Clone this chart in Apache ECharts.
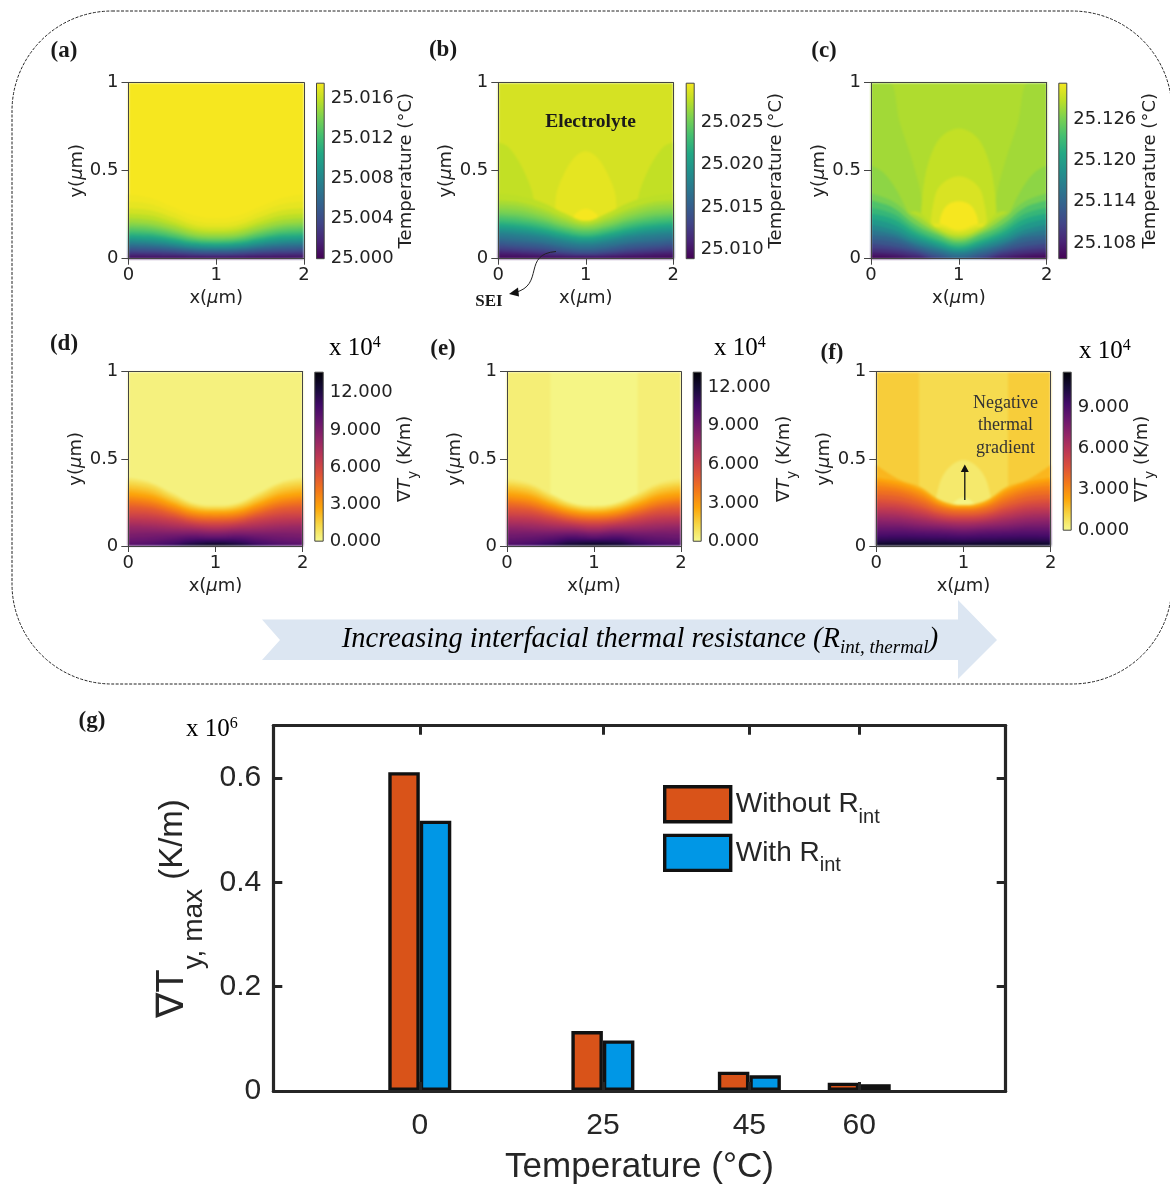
<!DOCTYPE html>
<html>
<head>
<meta charset="utf-8">
<script src="https://cdn.jsdelivr.net/npm/echarts@6/dist/echarts.min.js"></script>
<style>html,body{margin:0;padding:0;background:#fff}#c{width:1170px;height:1186px;filter:blur(0.4px)}</style>
</head>
<body>
<div id="c"></div>
<script>
// ---------- data ----------
const xSamples = [0, 0.25, 0.5, 0.75, 1, 1.25, 1.5, 1.75, 2];

// (a) temperature contours: level (°C) and y(µm) of the isoline at each xSample
const panelA_range = [25.000, 25.0176];
const panelA_ticks = [25.000, 25.004, 25.008, 25.012, 25.016];
const panelA_background = 25.0176;
const panelA_levels = [25.01742, 25.0171, 25.0165, 25.0158, 25.0151, 25.0144, 25.0136, 25.0127, 25.0116, 25.0104, 25.0092, 25.0079, 25.0065, 25.0051, 25.0037, 25.0023, 25.0011, 25.0002];
const panelA_isolines = [
  [.365,.345,.295,.245,.23,.245,.295,.345,.365],
  [.325,.31,.265,.215,.2,.215,.265,.31,.325],
  [.285,.275,.235,.19,.178,.19,.235,.275,.285],
  [.255,.245,.21,.17,.16,.17,.21,.245,.255],
  [.23,.22,.19,.155,.145,.155,.19,.22,.23],
  [.205,.197,.17,.138,.13,.138,.17,.197,.205],
  [.187,.18,.155,.125,.118,.125,.155,.18,.187],
  [.17,.163,.14,.113,.106,.113,.14,.163,.17],
  [.152,.146,.125,.102,.095,.102,.125,.146,.152],
  [.135,.13,.112,.09,.085,.09,.112,.13,.135],
  [.118,.113,.097,.08,.074,.08,.097,.113,.118],
  [.102,.097,.084,.068,.064,.068,.084,.097,.102],
  [.085,.081,.07,.057,.054,.057,.07,.081,.085],
  [.068,.065,.056,.046,.043,.046,.056,.065,.068],
  [.051,.048,.042,.034,.032,.034,.042,.048,.051],
  [.034,.032,.028,.023,.021,.023,.028,.032,.034],
  [.018,.017,.015,.012,.011,.012,.015,.017,.018],
  [.006,.006,.005,.004,.004,.004,.005,.006,.006]
];

// (b)
const panelB_range = [25.00895, 25.0296];
const panelB_ticks = [25.010, 25.015, 25.020, 25.025];
const panelB_background = 25.0284;
const panelB_regionValues = [25.0277, 25.0277, 25.0290, 25.0296];
const panelB_regions = [
  [[0,.66],[.1,.64],[.2,.58],[.3,.49],[.38,.39],[.42,.3]],
  [[1.58,.3],[1.62,.39],[1.7,.49],[1.8,.58],[1.9,.64],[2,.66]],
  [[.65,.28],[.66,.36],[.74,.47],[.86,.57],[1,.61],[1.14,.57],[1.26,.47],[1.34,.36],[1.35,.28]],
  [[.85,.21],[.88,.255],[1,.284],[1.12,.255],[1.15,.21]]
];
const panelB_levels = [25.0275, 25.0269, 25.0263, 25.0257, 25.0251, 25.0242, 25.0234, 25.0224, 25.0213, 25.0203, 25.0193, 25.0182, 25.0174, 25.0166, 25.0158, 25.0151, 25.0143, 25.0135, 25.0127, 25.0118, 25.0110, 25.0102, 25.0094];
const panelB_isolines = [
  [.37,.355,.32,.26,.215,.26,.32,.355,.37],
  [.33,.32,.285,.235,.2,.235,.285,.32,.33],
  [.308,.298,.265,.22,.19,.22,.265,.298,.308],
  [.285,.275,.245,.205,.18,.205,.245,.275,.285],
  [.267,.257,.23,.192,.17,.192,.23,.257,.267],
  [.25,.24,.215,.18,.16,.18,.215,.24,.25],
  [.232,.222,.2,.167,.147,.167,.2,.222,.232],
  [.215,.205,.185,.155,.135,.155,.185,.205,.215],
  [.2,.19,.17,.142,.125,.142,.17,.19,.2],
  [.185,.175,.155,.13,.115,.13,.155,.175,.185],
  [.17,.16,.142,.118,.103,.118,.142,.16,.17],
  [.155,.145,.13,.105,.09,.105,.13,.145,.155],
  [.14,.13,.115,.092,.08,.092,.115,.13,.14],
  [.125,.115,.1,.08,.07,.08,.1,.115,.125],
  [.11,.1,.088,.068,.058,.068,.088,.1,.11],
  [.1,.09,.08,.06,.05,.06,.08,.09,.1],
  [.087,.077,.067,.05,.042,.05,.067,.077,.087],
  [.075,.065,.055,.04,.033,.04,.055,.065,.075],
  [.062,.054,.045,.032,.026,.032,.045,.054,.062],
  [.05,.043,.035,.025,.02,.025,.035,.043,.05],
  [.039,.033,.026,.018,.015,.018,.026,.033,.039],
  [.028,.024,.018,.012,.01,.012,.018,.024,.028],
  [.012,.01,.008,.006,.005,.006,.008,.01,.012]
];

// (c)
const panelC_range = [25.1057, 25.1313];
const panelC_ticks = [25.108, 25.114, 25.120, 25.126];
const panelC_background = 25.1282;
const panelC_regionValues = [25.1277, 25.1277, 25.1269, 25.1269, 25.1290, 25.1300, 25.1313];
const panelC_regions = [
  [[0,1],[.21,1],[.33,.77],[.48,.54],[.58,.33],[.6,.1]],
  [[1.4,.1],[1.42,.33],[1.52,.54],[1.67,.77],[1.79,1],[2,1]],
  [[0,.53],[.14,.49],[.29,.39],[.44,.24]],
  [[1.56,.24],[1.71,.39],[1.86,.49],[2,.53]],
  [[.57,.25],[.59,.38],[.65,.54],[.785,.685],[1,.74],[1.215,.685],[1.35,.54],[1.41,.38],[1.43,.25]],
  [[.68,.2],[.7,.29],[.78,.41],[1,.468],[1.22,.41],[1.3,.29],[1.32,.2]],
  [[.78,.2],[.8,.25],[.87,.305],[1,.326],[1.13,.305],[1.2,.25],[1.22,.2]]
];
const panelC_levels = [25.1305, 25.1295, 25.1285, 25.1275, 25.1259, 25.1241, 25.1226, 25.1211, 25.1193, 25.1175, 25.1157, 25.1141, 25.1126, 25.1108, 25.1093, 25.1075, 25.1060];
const panelC_isolines = [
  [.05,.05,.1,.2,.165,.2,.1,.05,.05],
  [.05,.1,.16,.18,.15,.18,.16,.1,.05],
  [.2,.2,.27,.175,.135,.175,.27,.2,.2],
  [.3,.28,.25,.165,.125,.165,.25,.28,.3],
  [.37,.325,.225,.15,.11,.15,.225,.325,.37],
  [.33,.29,.195,.135,.095,.135,.195,.29,.33],
  [.29,.255,.17,.115,.08,.115,.17,.255,.29],
  [.255,.225,.15,.1,.067,.1,.15,.225,.255],
  [.225,.195,.13,.085,.055,.085,.13,.195,.225],
  [.195,.165,.11,.07,.042,.07,.11,.165,.195],
  [.165,.14,.09,.055,.03,.055,.09,.14,.165],
  [.135,.12,.075,.04,.015,.04,.075,.12,.135],
  [.11,.095,.06,.025,0,.025,.06,.095,.11],
  [.085,.07,.045,.01,0,.01,.045,.07,.085],
  [.06,.05,.03,0,0,0,.03,.05,.06],
  [.035,.028,.012,0,0,0,.012,.028,.035],
  [.015,.01,0,0,0,0,0,.01,.015]
];

// (d) gradient contours, x 10^4 K/m
const panelD_range = [-0.35, 13.7];
const panelD_ticks = [0, 3, 6, 9, 12];
const panelD_background = 0;
const panelD_levels = [0.5, 1, 1.5, 2, 2.5, 3, 3.5, 4, 4.5, 5, 5.5, 6, 6.5, 7, 7.5, 8, 8.5, 9, 9.5, 10, 10.5, 11, 11.5, 12, 12.5, 13];
const panelD_isolines = [
  [.39,.365,.305,.245,.232,.245,.305,.365,.39],
  [.37,.35,.29,.235,.222,.235,.29,.35,.37],
  [.35,.33,.275,.225,.213,.225,.275,.33,.35],
  [.33,.31,.26,.215,.205,.215,.26,.31,.33],
  [.31,.292,.247,.205,.196,.205,.247,.292,.31],
  [.29,.275,.235,.195,.187,.195,.235,.275,.29],
  [.275,.26,.222,.185,.177,.185,.222,.26,.275],
  [.26,.245,.21,.175,.167,.175,.21,.245,.26],
  [.243,.23,.197,.165,.157,.165,.197,.23,.243],
  [.225,.215,.185,.155,.148,.155,.185,.215,.225],
  [.205,.197,.172,.145,.138,.145,.172,.197,.205],
  [.185,.18,.16,.135,.128,.135,.16,.18,.185],
  [.167,.162,.145,.125,.118,.125,.145,.162,.167],
  [.15,.145,.13,.115,.108,.115,.13,.145,.15],
  [.132,.127,.115,.105,.098,.105,.115,.127,.132],
  [.115,.11,.1,.095,.088,.095,.1,.11,.115],
  [.093,.092,.087,.085,.079,.085,.087,.092,.093],
  [.07,.075,.075,.075,.07,.075,.075,.075,.07],
  [.045,.052,.06,.065,.06,.065,.06,.052,.045],
  [.02,.03,.045,.055,.05,.055,.045,.03,.02],
  [0,.012,.03,.045,.043,.045,.03,.012,0],
  [0,0,.015,.035,.036,.035,.015,0,0],
  [0,0,.005,.025,.028,.025,.005,0,0],
  [0,0,0,.015,.02,.015,0,0,0],
  [0,0,0,.006,.014,.006,0,0,0],
  [0,0,0,.002,.008,.002,0,0,0]
];

// (e)
const panelE_range = [-0.33, 13.2];
const panelE_ticks = [0, 3, 6, 9, 12];
const panelE_background = 0.15;
const panelE_regionValues = [-0.12];
const panelE_regions = [[[.5,1],[1.5,1]]];
const panelE_levels = [0.5, 1, 1.5, 2, 2.5, 3, 3.5, 4, 4.5, 5, 5.5, 6, 6.5, 7, 7.5, 8, 8.5, 9, 9.5, 10, 10.5, 11, 11.5, 12, 12.5];
const panelE_isolines = [
  [.385,.36,.3,.245,.23,.245,.3,.36,.385],
  [.365,.345,.285,.235,.22,.235,.285,.345,.365],
  [.345,.325,.27,.225,.21,.225,.27,.325,.345],
  [.325,.305,.255,.215,.202,.215,.255,.305,.325],
  [.305,.288,.243,.205,.193,.205,.243,.288,.305],
  [.285,.27,.23,.195,.184,.195,.23,.27,.285],
  [.27,.255,.218,.185,.175,.185,.218,.255,.27],
  [.255,.24,.205,.175,.165,.175,.205,.24,.255],
  [.238,.225,.193,.165,.155,.165,.193,.225,.238],
  [.22,.21,.18,.155,.146,.155,.18,.21,.22],
  [.2,.192,.168,.145,.136,.145,.168,.192,.2],
  [.18,.175,.155,.135,.126,.135,.155,.175,.18],
  [.163,.158,.14,.125,.116,.125,.14,.158,.163],
  [.145,.14,.125,.115,.106,.115,.125,.14,.145],
  [.128,.123,.112,.105,.096,.105,.112,.123,.128],
  [.11,.105,.098,.095,.086,.095,.098,.105,.11],
  [.09,.088,.085,.085,.077,.085,.085,.088,.09],
  [.068,.07,.072,.075,.068,.075,.072,.07,.068],
  [.042,.05,.058,.065,.058,.065,.058,.05,.042],
  [.018,.028,.043,.055,.048,.055,.043,.028,.018],
  [0,.01,.028,.045,.04,.045,.028,.01,0],
  [0,0,.014,.033,.033,.033,.014,0,0],
  [0,0,.004,.023,.025,.023,.004,0,0],
  [0,0,0,.012,.017,.012,0,0,0],
  [0,0,0,.003,.009,.003,0,0,0]
];

// (f)
const panelF_range = [-1.12, 11.63];
const panelF_ticks = [0, 3, 6, 9];
const panelF_background = 0.42;
const panelF_regionValues = [0, -0.5, -0.95];
const panelF_regions = [
  [[.49,1],[1.51,1]],
  [[.67,.22],[.69,.29],[.76,.4],[.88,.47],[1,.493],[1.12,.47],[1.24,.4],[1.31,.29],[1.33,.22]],
  [[.86,.2],[.88,.245],[1,.277],[1.12,.245],[1.14,.2]]
];
const panelF_levels = [1, 1.5, 2, 2.5, 3, 3.5, 4, 4.5, 5, 5.5, 6, 6.5, 7, 7.5, 8, 8.5, 9, 9.5, 10, 10.5, 11];
const panelF_isolines = [
  [.465,.385,.34,.26,.235,.26,.34,.385,.465],
  [.39,.37,.325,.25,.228,.25,.325,.37,.39],
  [.37,.35,.31,.24,.22,.24,.31,.35,.37],
  [.345,.33,.29,.23,.213,.23,.29,.33,.345],
  [.32,.31,.27,.22,.205,.22,.27,.31,.32],
  [.295,.285,.25,.205,.192,.205,.25,.285,.295],
  [.27,.26,.23,.19,.18,.19,.23,.26,.27],
  [.248,.24,.212,.178,.168,.178,.212,.24,.248],
  [.225,.22,.195,.165,.157,.165,.195,.22,.225],
  [.205,.2,.178,.152,.145,.152,.178,.2,.205],
  [.185,.18,.16,.14,.133,.14,.16,.18,.185],
  [.165,.16,.143,.127,.12,.127,.143,.16,.165],
  [.145,.14,.125,.115,.107,.115,.125,.14,.145],
  [.125,.122,.11,.102,.095,.102,.11,.122,.125],
  [.105,.105,.095,.09,.083,.09,.095,.105,.105],
  [.085,.086,.08,.076,.07,.076,.08,.086,.085],
  [.065,.068,.065,.062,.057,.062,.065,.068,.065],
  [.047,.05,.048,.046,.042,.046,.048,.05,.047],
  [.03,.033,.032,.03,.027,.03,.032,.033,.03],
  [.018,.02,.02,.018,.016,.018,.02,.02,.018],
  [.008,.01,.01,.008,.007,.008,.01,.01,.008]
];

// (g) bars
const temperatures = [0, 25, 45, 60];
const withoutRint = [0.611, 0.115, 0.037, 0.016];
const withRint = [0.518, 0.097, 0.030, 0.013];
const gradientTicks = [0, 0.2, 0.4, 0.6];

// colour maps
const viridis = ['#440154','#482475','#414487','#355f8d','#2a788e','#21918c','#22a884','#44bf70','#7ad151','#bddf26','#f6e71f'];
const infernoR = ['#f5fa90','#f6d746','#fca50a','#f37819','#dd513a','#bc3754','#932667','#6a176e','#420a68','#160b39','#000004'];

// ---------- helpers ----------
const SANS = 'DejaVu Sans';
const SERIF = 'Liberation Serif';
const ARIAL = 'Liberation Sans';
const INK = '#222';
const TOP = 1; // zlevel of everything except the contour fills

function mix(stops, f) {
  f = Math.max(0, Math.min(1, f));
  const p = f * (stops.length - 1), i = Math.min(Math.floor(p), stops.length - 2), t = p - i;
  const a = stops[i], b = stops[i + 1];
  const c = k => Math.round(parseInt(a.substr(k, 2), 16) * (1 - t) + parseInt(b.substr(k, 2), 16) * t);
  return 'rgb(' + c(1) + ',' + c(3) + ',' + c(5) + ')';
}

const panelDefs = [
  {rect:[128.5,82.7,175.5,176], bar:[316,82.7,8.7,176], cmap:viridis, range:panelA_range, ticks:panelA_ticks, bg:panelA_background, levels:panelA_levels, lines:panelA_isolines, regions:[], regionValues:[], kind:'T', gap:73, dec:3},
  {rect:[498.3,82.7,175,176], bar:[685.7,82.7,9,176], cmap:viridis, range:panelB_range, ticks:panelB_ticks, bg:panelB_background, levels:panelB_levels, lines:panelB_isolines, regions:panelB_regions, regionValues:panelB_regionValues, kind:'T', gap:73, dec:3},
  {rect:[871,82.7,175.7,176], bar:[1058.3,82.7,9,176], cmap:viridis, range:panelC_range, ticks:panelC_ticks, bg:panelC_background, levels:panelC_levels, lines:panelC_isolines, regions:panelC_regions, regionValues:panelC_regionValues, kind:'T', gap:74, dec:3},
  {rect:[128.3,371.7,174.4,174.3], bar:[314.3,371.7,9.4,174.3], cmap:infernoR, range:panelD_range, ticks:panelD_ticks, bg:panelD_background, levels:panelD_levels, lines:panelD_isolines, regions:[], regionValues:[], kind:'G', gap:65, dec:3},
  {rect:[507,371.7,174,174.3], bar:[692.7,371.7,9,174.3], cmap:infernoR, range:panelE_range, ticks:panelE_ticks, bg:panelE_background, levels:panelE_levels, lines:panelE_isolines, regions:panelE_regions, regionValues:panelE_regionValues, kind:'G', gap:68, dec:3},
  {rect:[876.3,371.7,174.4,174.3], bar:[1062.7,371.7,9,174.3], cmap:infernoR, range:panelF_range, ticks:panelF_ticks, bg:panelF_background, levels:panelF_levels, lines:panelF_isolines, regions:panelF_regions, regionValues:panelF_regionValues, kind:'G', gap:56, dec:3}
];

const grid = [], xAxis = [], yAxis = [], series = [];
const frame = {lineStyle:{color:'#444', width:1}};
const boxAt = r => ({left:r[0], top:r[1], width:r[2], height:r[3], containLabel:false});

panelDefs.forEach(p => {
  const g = grid.length;
  grid.push(boxAt(p.rect));
  const ax = xAxis.length, ay = yAxis.length;
  xAxis.push({gridIndex:g, type:'value', min:0, max:2, interval:1, z:5, zlevel:TOP, position:'bottom', splitLine:{show:false},
    axisLine:Object.assign({onZero:false}, frame), axisTick:{length:6, lineStyle:{color:'#444'}},
    axisLabel:{fontFamily:SANS, fontSize:18, color:INK, margin:8},
    name:'{a|x(}{i|\u03bc}{a|m)}', nameLocation:'middle', nameGap:31,
    nameTextStyle:{rich:{a:{fontFamily:SANS, fontSize:18, color:INK}, i:{fontFamily:SANS, fontSize:18, fontStyle:'italic', color:INK}}}});
  yAxis.push({gridIndex:g, type:'value', min:0, max:1, interval:0.5, z:5, zlevel:TOP, position:'left', splitLine:{show:false},
    axisLine:Object.assign({onZero:false}, frame), axisTick:{length:7, lineStyle:{color:'#444'}},
    axisLabel:{fontFamily:SANS, fontSize:18, color:INK, margin:10, padding:[3,0,0,0], formatter:v => String(v)},
    name:'{a|y(}{i|\u03bc}{a|m)}', nameLocation:'middle', nameGap:40,
    nameTextStyle:{rich:{a:{fontFamily:SANS, fontSize:18, color:INK}, i:{fontFamily:SANS, fontSize:18, fontStyle:'italic', color:INK}}}});
  // closing the frame on the top and right
  xAxis.push({gridIndex:g, type:'value', min:0, max:2, z:5, zlevel:TOP, position:'top', splitLine:{show:false}, axisLabel:{show:false}, axisTick:{show:false}, axisLine:Object.assign({onZero:false}, frame)});
  yAxis.push({gridIndex:g, type:'value', min:0, max:1, z:5, zlevel:TOP, position:'right', splitLine:{show:false}, axisLabel:{show:false}, axisTick:{show:false}, axisLine:Object.assign({onZero:false}, frame)});

  const col = v => mix(p.cmap, (v - p.range[0]) / (p.range[1] - p.range[0]));
  const area = (data, v, smooth) => series.push({type:'line', xAxisIndex:ax, yAxisIndex:ay, data:data, showSymbol:false, symbol:'none', silent:true,
    smooth:smooth, lineStyle:{width:0}, areaStyle:{color:col(v), opacity:1, origin:'start'}, animation:false, legendHoverLink:false, zlevel:0});
  area([[0,1],[2,1]], p.bg, false);
  p.regions.forEach((r, i) => area(r, p.regionValues[i], r.length > 2 ? 0.35 : false));
  p.levels.forEach((v, i) => area(p.lines[i].map((y, k) => [xSamples[k], y]), v, 0.4));

  // colour bar
  const gb = grid.length;
  grid.push(boxAt(p.bar));
  const bx = xAxis.length, by = yAxis.length;
  xAxis.push({gridIndex:gb, type:'category', data:['bar'], show:false, boundaryGap:true});
  const name = p.kind === 'T'
    ? 'Temperature (\u00b0C)'
    : '{a|\u2207}{i|T}{s|y}{a| (K/m)}';
  const rich = {a:{fontFamily:SANS, fontSize:18, color:INK, lineHeight:30}, i:{fontFamily:SANS, fontSize:18, fontStyle:'italic', color:INK, lineHeight:30}, s:{fontFamily:SANS, fontSize:14, color:INK, lineHeight:20, verticalAlign:'bottom'}};
  yAxis.push({gridIndex:gb, type:'value', position:'right', min:p.range[0], max:p.range[1], z:5, zlevel:TOP, splitLine:{show:false},
    axisLine:{show:false}, axisTick:{length:3, customValues:p.ticks, lineStyle:{color:'#444'}},
    axisLabel:{fontFamily:SANS, fontSize:18, color:INK, margin:6, padding:[4,0,0,0], customValues:p.ticks, formatter:v => v.toFixed(p.dec)},
    name:name, nameLocation:'middle', nameRotate:90, nameGap:p.gap,
    nameTextStyle:{fontFamily:SANS, fontSize:18, color:INK, rich:p.kind === 'T' ? undefined : rich}});
  const stops = [];
  for (let i = 0; i < p.cmap.length; i++) stops.push({offset:i / (p.cmap.length - 1), color:p.cmap[p.cmap.length - 1 - i]});
  series.push({type:'bar', xAxisIndex:bx, yAxisIndex:by, data:[p.range[1]], barWidth:'100%', silent:true, animation:false, zlevel:TOP,
    itemStyle:{borderColor:'#444', borderWidth:1, color:{type:'linear', x:0, y:0, x2:0, y2:1, colorStops:stops}}});
});

// ----- bar chart (g)
const gBar = grid.length;
grid.push({left:273.3, top:725.7, width:732.4, height:367.6, containLabel:false});
const barX = xAxis.length, barY = yAxis.length;
const heavy = {onZero:false, lineStyle:{color:'#262626', width:3.2}};
const inTick = vals => ({inside:true, length:9, customValues:vals, lineStyle:{color:'#262626', width:3}});
xAxis.push({gridIndex:gBar, type:'value', min:-20, max:80, z:5, zlevel:TOP, position:'bottom', splitLine:{show:false}, axisLine:heavy, axisTick:inTick(temperatures),
  axisLabel:{customValues:temperatures, fontFamily:ARIAL, fontSize:30, color:'#262626', margin:20, formatter:v => String(v)},
  name:'Temperature (\u00b0C)', nameLocation:'middle', nameGap:59, nameTextStyle:{fontFamily:ARIAL, fontSize:35, color:'#262626'}});
xAxis.push({gridIndex:gBar, type:'value', min:-20, max:80, z:5, zlevel:TOP, position:'top', splitLine:{show:false}, axisLine:heavy, axisTick:inTick(temperatures), axisLabel:{show:false}});
yAxis.push({gridIndex:gBar, type:'value', min:0, max:0.7, z:5, zlevel:TOP, position:'left', splitLine:{show:false}, axisLine:heavy, axisTick:inTick(gradientTicks),
  axisLabel:{customValues:gradientTicks, fontFamily:ARIAL, fontSize:30, color:'#262626', margin:12, padding:[5,0,0,0], formatter:v => String(v)},
  name:'{t|\u2207T}{s|y, max}{u| (K/m)}', nameLocation:'middle', nameGap:58,
  nameTextStyle:{rich:{
    t:{fontFamily:ARIAL, fontSize:38, color:'#262626', lineHeight:72},
    s:{fontFamily:ARIAL, fontSize:28, color:'#262626', lineHeight:32, verticalAlign:'bottom'},
    u:{fontFamily:ARIAL, fontSize:33, color:'#262626', lineHeight:72}}}});
yAxis.push({gridIndex:gBar, type:'value', min:0, max:0.7, z:5, zlevel:TOP, position:'right', splitLine:{show:false}, axisLine:heavy, axisTick:inTick(gradientTicks), axisLabel:{show:false}});
const barStyle = c => ({color:c, borderColor:'#111', borderWidth:3.4});
series.push({name:'Without Rint', type:'bar', xAxisIndex:barX, yAxisIndex:barY, barWidth:31.5, barGap:0, animation:false, zlevel:TOP, itemStyle:barStyle('#D95319'), data:temperatures.map((t, i) => [t, withoutRint[i]])});
series.push({name:'With Rint', type:'bar', xAxisIndex:barX, yAxisIndex:barY, barWidth:31.5, barGap:0, animation:false, zlevel:TOP, itemStyle:barStyle('#0097E6'), data:temperatures.map((t, i) => [t, withRint[i]])});

const legendRich = {n:{fontFamily:ARIAL, fontSize:28, color:'#262626', lineHeight:46}, s:{fontFamily:ARIAL, fontSize:20, color:'#262626', lineHeight:22, verticalAlign:'bottom'}};
const legendOf = (nm, top) => ({data:[nm], left:663, top:top, zlevel:TOP, orient:'vertical', padding:0, icon:'rect', itemWidth:66, itemHeight:35, selectedMode:false,
  itemStyle:{borderColor:'#111', borderWidth:3.4}, formatter:n => '{n|' + n.replace('Rint', 'R') + '}{s|int}', textStyle:{rich:legendRich}});

// ----- annotations
const txt = (x, y, text, font, extra) => ({type:'text', x:x, y:y, z:100, zlevel:TOP, silent:true, style:Object.assign({text:text, font:font, fill:'#1a1a1a', textAlign:'center', textVerticalAlign:'middle'}, extra || {})});
const sup = {a:{fontFamily:SERIF, fontSize:25, lineHeight:26, color:'#222'}, b:{fontFamily:SERIF, fontSize:16, color:'#222', lineHeight:18, verticalAlign:'top'}};
const tenTo = (x, y, n) => ({type:'text', x:x, y:y, z:100, zlevel:TOP, silent:true, style:{text:'{a|x 10}{b|' + n + '}', rich:sup, textAlign:'left', textVerticalAlign:'middle'}});
const panelFont = 'bold 23px "Liberation Serif"';

const graphics = [
  {type:'rect', z:1, zlevel:TOP, silent:true, shape:{x:12, y:11, width:1160, height:673, r:100}, style:{fill:'none', stroke:'#222', lineWidth:1, lineDash:[3,1.5]}},
  {type:'polygon', z:1, zlevel:TOP, silent:true, shape:{points:[[262,619.5],[958,619.5],[958,600],[997,640],[958,679],[958,660],[262,660],[280,640]]}, style:{fill:'#DCE6F2'}},
  {type:'text', x:640, y:640, z:100, zlevel:TOP, silent:true, style:{text:'{a|Increasing interfacial thermal resistance (R}{s|int, thermal}{a|)}', textAlign:'center', textVerticalAlign:'middle',
    rich:{a:{fontFamily:SERIF, fontStyle:'italic', fontSize:28.5, color:'#222', lineHeight:34}, s:{fontFamily:SERIF, fontStyle:'italic', fontSize:19, color:'#222', lineHeight:20, verticalAlign:'bottom'}}}},
  txt(64, 51, '(a)', panelFont), txt(443, 50, '(b)', panelFont), txt(824, 51, '(c)', panelFont),
  txt(64, 344, '(d)', panelFont), txt(443, 349, '(e)', panelFont), txt(832, 353, '(f)', panelFont), txt(92, 721, '(g)', panelFont),
  tenTo(329, 348, 4), tenTo(714, 348, 4), tenTo(1079, 351, 4), tenTo(186, 729, 6),
  txt(590.5, 122, 'Electrolyte', 'bold 19.5px "Liberation Serif"'),
  txt(489, 302, 'SEI', 'bold 17px "Liberation Serif"'),
  txt(1005.5, 403, 'Negative', '18px "Liberation Serif"', {fill:'#333'}),
  txt(1005.5, 425, 'thermal', '18px "Liberation Serif"', {fill:'#333'}),
  txt(1005.5, 448, 'gradient', '18px "Liberation Serif"', {fill:'#333'}),
  {type:'bezierCurve', z:100, zlevel:TOP, silent:true, shape:{x1:556, y1:251.5, cpx1:522, cpy1:254, cpx2:545, cpy2:285, x2:515, y2:292.5}, style:{stroke:'#222', lineWidth:1, fill:'none'}},
  {type:'polygon', z:100, zlevel:TOP, silent:true, shape:{points:[[509,294],[518,287.5],[519,296.5]]}, style:{fill:'#111'}},
  {type:'line', z:100, zlevel:TOP, silent:true, shape:{x1:964.8, y1:500, x2:964.8, y2:470}, style:{stroke:'#111', lineWidth:1.3}},
  {type:'polygon', z:100, zlevel:TOP, silent:true, shape:{points:[[964.8,464.5],[968.8,472],[960.8,472]]}, style:{fill:'#111'}}
];

const chart = echarts.init(document.getElementById('c'), null, {renderer:'canvas'});
chart.setOption({
  animation:false,
  backgroundColor:'#fff',
  grid:grid, xAxis:xAxis, yAxis:yAxis, series:series,
  legend:[legendOf('Without Rint', 785), legendOf('With Rint', 833.7)],
  graphic:{elements:graphics}
});
// soften the contour bands (the source figure is a resampled image)
const fillLayer = document.querySelector('#c canvas[data-zr-dom-id="zr_0"]');
if (fillLayer) fillLayer.style.filter = 'blur(1.1px)';
</script>
</body>
</html>
